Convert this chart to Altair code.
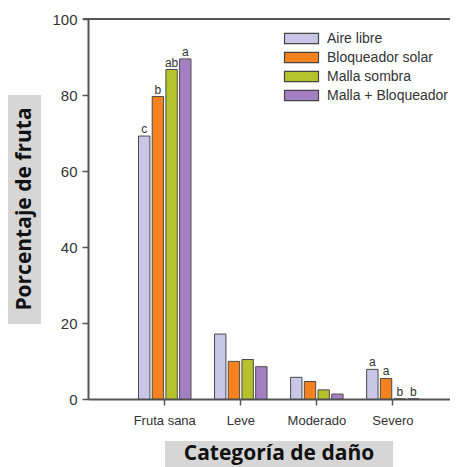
import altair as alt
import pandas as pd

categories = ["Fruta sana", "Leve", "Moderado", "Severo"]
treatments = ["Aire libre", "Bloqueador solar", "Malla sombra", "Malla + Bloqueador"]
colors = ["#c9c6e8", "#f5821f", "#b6c22c", "#a47fc2"]

aire_libre = [69.2, 17.1, 5.7, 7.8]
bloqueador = [79.6, 9.9, 4.6, 5.4]
malla = [86.7, 10.4, 2.4, 0.0]
malla_bloq = [89.5, 8.5, 1.3, 0.0]

letters_aire = ["c", "", "", "a"]
letters_bloq = ["b", "", "", "a"]
letters_malla = ["ab", "", "", "b"]
letters_mb = ["a", "", "", "b"]

rows = []
for t, vals, labs in zip(treatments,
                         [aire_libre, bloqueador, malla, malla_bloq],
                         [letters_aire, letters_bloq, letters_malla, letters_mb]):
    for c, v, l in zip(categories, vals, labs):
        rows.append({"cat": c, "trat": t, "val": v, "lab": l})
df = pd.DataFrame(rows)
one = pd.DataFrame({"k": [0]})

W, H = 362, 380
AX = "#555555"

x_enc = alt.X("cat:N", sort=categories,
              scale=alt.Scale(domain=categories, paddingInner=0, paddingOuter=0.38, align=0.67),
              axis=alt.Axis(title=None, labelAngle=0, labelFont="Liberation Sans", labelFontSize=13,
                            labelColor="#333333", tickSize=6, labelPadding=9,
                            domainColor=AX, domainWidth=2, tickColor=AX, tickWidth=1.5))
xo_enc = alt.XOffset("trat:N", sort=treatments,
                     scale=alt.Scale(domain=treatments, paddingInner=0.17, paddingOuter=0.86))
y_enc = alt.Y("val:Q", scale=alt.Scale(domain=[0, 100], nice=False),
              axis=alt.Axis(title=None, values=[0, 20, 40, 60, 80, 100], grid=False,
                            labelFont="Liberation Sans", labelFontSize=15, labelColor="#333333",
                            tickSize=6, labelPadding=5, domainColor=AX, domainWidth=2,
                            tickColor=AX, tickWidth=1.5))

bars = alt.Chart(df).mark_bar(stroke="#4a4a4a", strokeWidth=1).encode(
    x=x_enc, xOffset=xo_enc, y=y_enc,
    color=alt.Color("trat:N", sort=treatments, scale=alt.Scale(domain=treatments, range=colors),
                    legend=alt.Legend(title=None, orient="none", legendX=204, legendY=10,
                                      symbolType="M-2,-0.6H2V0.6H-2Z", symbolSize=289,
                                      symbolStrokeColor="#444444", symbolStrokeWidth=1.2,
                                      labelFont="Liberation Sans", labelFontSize=14,
                                      labelColor="#333333", rowPadding=2, labelOffset=16))
)

texts = alt.Chart(df).mark_text(dy=-7, font="Liberation Sans", fontSize=12, color="#333333").encode(
    x=x_enc, xOffset=xo_enc, y=y_enc, text="lab:N"
)

top_line = alt.Chart(one).mark_rule(color=AX, strokeWidth=2).encode(
    x=alt.value(-5), x2=alt.value(W), y=alt.value(0)
)

box_y = alt.Chart(one).mark_rect(color="#d6d6d6").encode(
    x=alt.value(-81), x2=alt.value(-47), y=alt.value(76), y2=alt.value(305)
)
title_y = alt.Chart(one).mark_text(text="Porcentaje de fruta", angle=270, font="Open Sans",
                                   fontWeight="bold", fontSize=21, color="#111111",
                                   baseline="middle", align="center").encode(
    x=alt.value(-63), y=alt.value(190)
)
box_x = alt.Chart(one).mark_rect(color="#d6d6d6").encode(
    x=alt.value(77), x2=alt.value(305), y=alt.value(422), y2=alt.value(448)
)
title_x = alt.Chart(one).mark_text(text="Categoría de daño", font="Open Sans",
                                   fontWeight="bold", fontSize=21, color="#111111",
                                   baseline="middle", align="center").encode(
    x=alt.value(191), y=alt.value(435)
)

chart = alt.layer(box_y, title_y, box_x, title_x, bars, texts, top_line).properties(
    width=W, height=H,
    autosize=alt.AutoSizeParams(type="none"),
    padding={"left": 80, "top": 11, "right": 0, "bottom": 68},
).configure_view(stroke=None)

chart.save("out.html", embed_options={"renderer": "svg", "actions": False})
